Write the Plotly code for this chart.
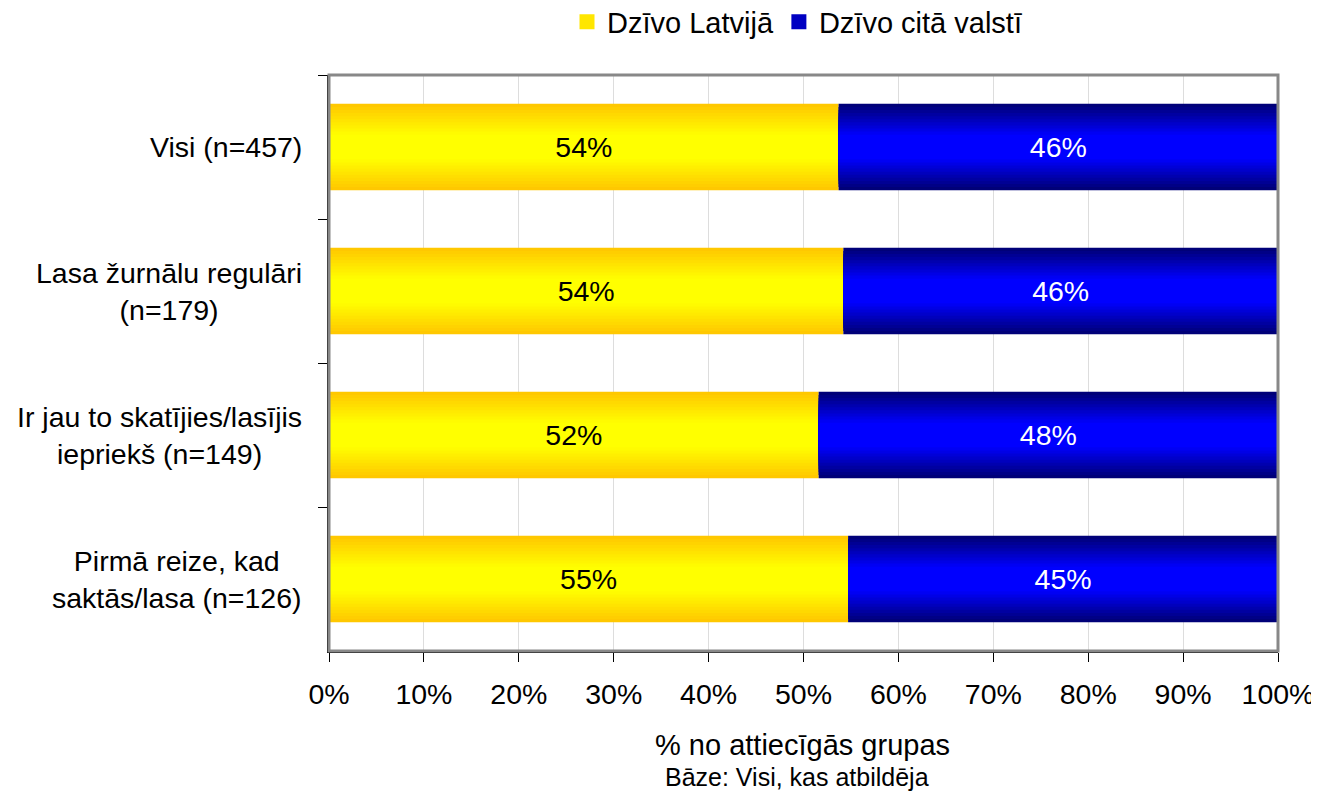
import plotly.graph_objects as go

categories = ["Visi (n=457)", "Lasa žurnālu regulāri<br>(n=179)",
              "Ir jau to skatījies/lasījis<br>iepriekš (n=149)",
              "Pirmā reize, kad<br>saktās/lasa (n=126)"]
latvija = [53.7, 54.2, 51.6, 54.7]
cita = [46.3, 45.8, 48.4, 45.3]
series_names = ["Dzīvo Latvijā", "Dzīvo citā valstī"]
xticks = [0, 10, 20, 30, 40, 50, 60, 70, 80, 90, 100]
xtick_labels = [f"{v}%" for v in xticks]

FONT = "Liberation Sans, Arial, sans-serif"
FS = 28.5
BAR_W = 0.6
N = 14

def mix(c1, c2, t):
    return "rgb(%d,%d,%d)" % tuple(round(a + (b - a) * t) for a, b in zip(c1, c2))

yellow_edge, yellow_mid = (255, 200, 0), (255, 255, 0)
blue_edge, blue_mid = (0, 0, 120), (0, 0, 255)

fig = go.Figure()
for si, (vals, base, ce, cm) in enumerate([
        (latvija, [0] * len(latvija), yellow_edge, yellow_mid),
        (cita, latvija, blue_edge, blue_mid)]):
    for k in range(N):
        t = min(1.0, k / (N * 0.7))
        w = BAR_W * (1 - k / N)
        fig.add_trace(go.Bar(
            y=categories, x=vals, base=base, orientation="h",
            width=w, marker=dict(color=mix(ce, cm, t), line=dict(width=0)),
            name=series_names[si], showlegend=False, legendgroup=series_names[si],
            hoverinfo="skip"))

# text labels
for vals, base, col in [(latvija, [0] * len(latvija), "black"), (cita, latvija, "white")]:
    fig.add_trace(go.Bar(
        y=categories, x=vals, base=base, orientation="h", width=BAR_W,
        marker=dict(color="rgba(0,0,0,0)", line=dict(width=0)),
        text=[f"{round(v)}%" for v in vals], textposition="inside",
        insidetextanchor="middle", textangle=0,
        textfont=dict(family=FONT, size=FS, color=col),
        showlegend=False, hoverinfo="skip"))

# legend entries (square swatches)
for name, col in zip(series_names, [mix(yellow_edge, yellow_mid, 0.55), mix(blue_edge, blue_mid, 0.55)]):
    fig.add_trace(go.Scatter(
        x=[None], y=[None], mode="markers", name=name, legendgroup=name,
        marker=dict(symbol="square", size=15, color=col, line=dict(width=0)),
        hoverinfo="skip"))

for c in categories:
    fig.add_annotation(x=-0.026, xref="paper", y=c, yref="y", text=c,
                       xanchor="right", yanchor="middle", align="center",
                       showarrow=False, font=dict(family=FONT, size=FS, color="black"))

fig.add_annotation(x=(802 - 329) / 949, xref="paper", y=(651 - 745) / 576, yref="paper",
                   text="% no attiecīgās grupas", showarrow=False, xanchor="center",
                   yanchor="middle", font=dict(family=FONT, size=29, color="black"))
fig.add_annotation(x=(797 - 329) / 949, xref="paper", y=(651 - 777) / 576, yref="paper",
                   text="Bāze: Visi, kas atbildēja", showarrow=False, xanchor="center",
                   yanchor="middle", font=dict(family=FONT, size=25, color="black"))

# frame (top/right gray)
fig.add_shape(type="rect", xref="paper", yref="paper", x0=0, x1=1, y0=0, y1=1,
              line=dict(color="#888888", width=3), layer="above")

# page body has an 8px margin: compensate so the plot area lands where the reference has it
fig.update_layout(
    width=1319, height=793,
    margin=dict(l=321, r=49, t=67, b=150, autoexpand=False),
    barmode="overlay",
    plot_bgcolor="white", paper_bgcolor="white",
    font=dict(family=FONT, size=FS, color="black"),
    legend=dict(orientation="h", x=(797 - 329) / 949, xanchor="center",
                yref="paper", y=1 + (75 - 22) / 576, yanchor="middle",
                font=dict(family=FONT, size=29), itemwidth=30,
                traceorder="normal", tracegroupgap=0),
    xaxis=dict(range=[0, 100], tickvals=xticks, ticktext=xtick_labels,
               showgrid=True, gridcolor="#DDDDDD", gridwidth=1,
               ticks="outside", ticklen=9, tickcolor="black",
               showline=True, linecolor="black", linewidth=1.5,
               tickfont=dict(family=FONT, size=FS), ticklabelstandoff=8,
               zeroline=False, fixedrange=True),
    yaxis=dict(categoryorder="array", categoryarray=categories, autorange="reversed",
               showticklabels=False, ticks="outside", ticklen=9, tickcolor="black",
               tickson="boundaries", showgrid=False,
               showline=True, linecolor="black", linewidth=1.5, fixedrange=True),
)

fig.write_html("out.html")
